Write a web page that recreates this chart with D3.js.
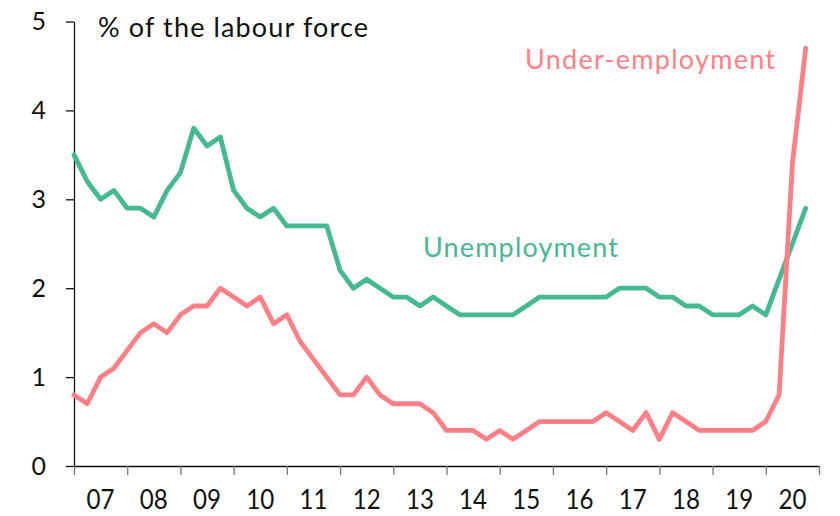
<!DOCTYPE html>
<html>
<head>
<meta charset="utf-8">
<script src="https://cdn.jsdelivr.net/npm/d3@7"></script>
<style>
  body { margin: 0; background: #fff; }
  svg text { font-family: "Lato", "Noto Sans", sans-serif; }
</style>
</head>
<body>
<div id="chart"></div>
<script>
// quarterly, starting 2007 Q1
const startYear = 2007;
const unemployment = [3.5, 3.2, 3.0, 3.1, 2.9, 2.9, 2.8, 3.1, 3.3, 3.8, 3.6, 3.7,
  3.1, 2.9, 2.8, 2.9, 2.7, 2.7, 2.7, 2.7, 2.2, 2.0, 2.1, 2.0, 1.9, 1.9, 1.8, 1.9,
  1.8, 1.7, 1.7, 1.7, 1.7, 1.7, 1.8, 1.9, 1.9, 1.9, 1.9, 1.9, 1.9, 2.0, 2.0, 2.0,
  1.9, 1.9, 1.8, 1.8, 1.7, 1.7, 1.7, 1.8, 1.7, 2.1, 2.5, 2.9];
const underEmployment = [0.8, 0.7, 1.0, 1.1, 1.3, 1.5, 1.6, 1.5, 1.7, 1.8, 1.8, 2.0,
  1.9, 1.8, 1.9, 1.6, 1.7, 1.4, 1.2, 1.0, 0.8, 0.8, 1.0, 0.8, 0.7, 0.7, 0.7, 0.6,
  0.4, 0.4, 0.4, 0.3, 0.4, 0.3, 0.4, 0.5, 0.5, 0.5, 0.5, 0.5, 0.6, 0.5, 0.4, 0.6,
  0.3, 0.6, 0.5, 0.4, 0.4, 0.4, 0.4, 0.4, 0.5, 0.8, 3.4, 4.7];
const years = d3.range(2007, 2021);
const yTicks = [0, 1, 2, 3, 4, 5];

const width = 840, height = 516;
const green = "#44b993", pink = "#ff7f86";

let svg = d3.select("#chart").append("svg")
  .attr("width", width)
  .attr("height", height);

// scales
let x = d3.scaleLinear().domain([2007, 2021]).range([74, 819]);
let y = d3.scaleLinear().domain([0, 5]).range([466, 21.5]);

// y axis
let yAxis = svg.append("g")
  .attr("transform", "translate(74,0)")
  .call(d3.axisLeft(y).tickValues(yTicks).tickSize(8).tickSizeOuter(0).tickPadding(20).tickFormat(d3.format("d")));
yAxis.selectAll("text").attr("font-size", 25).attr("fill", "#111");
yAxis.selectAll("line, path").attr("stroke", "#111").attr("stroke-width", 1.3);

// x axis: ticks between years, labels centred in each year
let xAxis = svg.append("g")
  .attr("transform", "translate(0,466)")
  .call(d3.axisBottom(x).tickValues(years.concat([2021])).tickSize(9).tickSizeOuter(0).tickFormat(""));
xAxis.select(".domain").attr("stroke", "#111").attr("stroke-width", 1.3);
xAxis.selectAll(".tick line").attr("stroke", "#777").attr("stroke-width", 1.3);

svg.append("g").selectAll("text")
  .data(years)
  .enter().append("text")
  .attr("x", d => x(d + 0.5))
  .attr("y", 509)
  .attr("text-anchor", "middle")
  .attr("font-size", 27)
  .attr("textLength", 28)
  .attr("lengthAdjust", "spacingAndGlyphs")
  .attr("fill", "#111")
  .text(d => String(d).slice(2));

// lines
let line = d3.line()
  .x((d, i) => x(startYear + i * 0.25))
  .y(d => y(d));

svg.append("path")
  .datum(unemployment)
  .attr("fill", "none")
  .attr("stroke", green)
  .attr("stroke-width", 4.8)
  .attr("stroke-linejoin", "round")
  .attr("stroke-linecap", "round")
  .attr("d", line);

svg.append("path")
  .datum(underEmployment)
  .attr("fill", "none")
  .attr("stroke", pink)
  .attr("stroke-width", 4.8)
  .attr("stroke-linejoin", "round")
  .attr("stroke-linecap", "round")
  .attr("d", line);

// labels
svg.append("text")
  .attr("x", 98).attr("y", 37)
  .attr("font-size", 27).attr("fill", "#111")
  .attr("textLength", 270)
  .text("% of the labour force");

svg.append("text")
  .attr("x", 525).attr("y", 69)
  .attr("font-size", 27).attr("fill", pink)
  .attr("textLength", 250)
  .text("Under-employment");

svg.append("text")
  .attr("x", 423).attr("y", 257)
  .attr("font-size", 27).attr("fill", green)
  .attr("textLength", 195)
  .text("Unemployment");
</script>
</body>
</html>
